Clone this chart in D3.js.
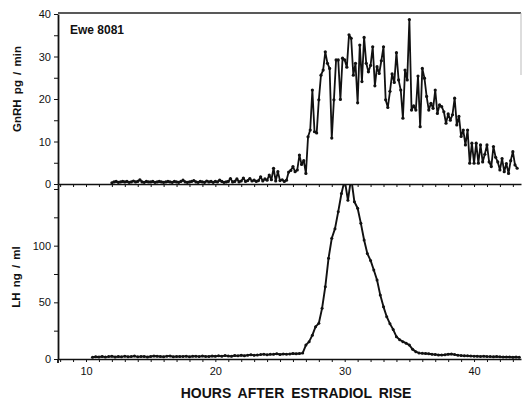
<!DOCTYPE html>
<html>
<head>
<meta charset="utf-8">
<script src="https://cdn.jsdelivr.net/npm/d3@7"></script>
<style>
  body { margin: 0; background: #fff; }
  svg { font-family: "Liberation Sans", Arial, Helvetica, sans-serif; }
  .axis path, .axis line { stroke: #111; }
  .axis text { fill: #111; font-size: 11px; }
</style>
</head>
<body>
<div id="vis"></div>
<script>
// GnRH sampled every 10 min, starting 12 h after the estradiol rise
const GNRH_START = 12;
const GNRH_STEP = 1 / 6;
const gnrhValues = [
  0.3, 0.5, 0.6, 0.4, 0.5, 0.6,
  0.5, 0.6, 0.4, 0.5, 0.7, 0.5,
  0.6, 1.0, 0.5, 0.4, 0.6, 0.5,
  0.5, 0.6, 0.4, 0.5, 0.6, 0.5,
  0.4, 0.5, 0.6, 0.5, 0.4, 0.6,
  0.5, 0.4, 0.6, 0.9, 0.5, 0.4,
  0.5, 0.6, 0.8, 0.5, 0.4, 0.6,
  0.5, 0.4, 0.7, 0.5, 0.6, 0.4,
  0.6, 0.5, 0.9, 0.6, 0.4, 0.5,
  0.6, 1.3, 0.5, 0.6, 1.2, 0.5,
  0.7, 1.4, 0.6, 0.8, 1.3, 0.7,
  0.9, 0.6, 0.8, 1.7, 0.7, 1.2,
  0.9, 2.1, 1.0, 3.7, 0.7, 2.9,
  0.8, 1.0, 0.6, 0.9, 2.8, 3.2,
  4.1, 2.9, 3.3, 6.8, 4.6, 5.5,
  2.5, 11.1, 12.7, 22.1, 12.3, 12.0,
  19.8, 25.6, 26.8, 31.1, 28.4, 27.2,
  10.8, 19.8, 29.2, 29.2, 19.9, 29.6,
  29.2, 27.5, 35.1, 34.3, 25.6, 28.4,
  19.1, 32.7, 24.1, 34.5, 28.4, 26.4,
  27.9, 32.3, 23.1, 27.6, 26.0, 29.0,
  32.3, 19.8, 18.0, 21.8, 25.9, 23.9,
  30.9, 24.5, 22.1, 15.5, 26.8, 24.5,
  38.7, 17.4, 18.4, 17.4, 25.4, 13.5,
  27.2, 24.9, 20.6, 17.4, 19.0, 17.8,
  22.1, 16.6, 18.6, 18.2, 17.0, 14.3,
  16.5, 15.0, 16.3, 20.2, 13.9, 15.9,
  11.2, 12.7, 9.2, 12.7, 4.9, 9.6,
  4.9, 9.6, 4.9, 9.2, 5.2, 7.0,
  9.2, 5.2, 4.1, 8.8, 6.3, 5.2,
  3.3, 6.0, 2.9, 4.8, 2.5, 5.5,
  7.6, 4.5, 3.7
];

// LH sampled every 15 min, starting 10.5 h
const LH_START = 10.5;
const LH_STEP = 0.25;
const lhValues = [
  1.5, 2.0, 1.8, 2.2,
  1.7, 2.1, 2.4, 1.8,
  2.2, 1.9, 2.5, 2.0,
  2.1, 2.6, 1.9, 2.2,
  2.3, 1.8, 2.2, 2.6,
  2.4, 2.2, 2.0, 2.5,
  2.6, 2.0, 2.3, 2.2,
  2.3, 2.5, 2.0, 2.4,
  2.5, 2.1, 2.6, 2.3,
  2.2, 2.6, 2.4, 2.8,
  2.5, 3.0, 2.6, 2.4,
  3.1, 2.8, 3.3, 2.9,
  3.4, 3.8, 3.2, 3.6,
  3.9, 4.3, 3.7, 4.1,
  4.2, 4.6, 4.0, 4.4,
  4.3, 4.5, 4.8, 4.6,
  4.9, 5.2, 12.3, 15.3,
  21.0, 28.5, 31.5, 44.7,
  63.8, 88.8, 106.5, 115,
  130, 146, 158, 140,
  160, 138.7, 133, 119.7,
  105, 93, 87, 78.5,
  69.7, 56.4, 46, 37.3,
  31, 26, 19.7, 17,
  15.3, 14, 12.3, 8.5,
  6.5, 5.2, 5.0, 4.8,
  4.6, 4.2, 4.0, 3.6,
  3.5, 3.8, 4.2, 4.4,
  3.9, 3.4, 3.0, 2.9,
  2.8, 2.6, 2.5, 2.4,
  2.3, 2.4, 2.2, 2.1,
  2.0, 2.2, 1.9, 1.8,
  1.8, 1.7, 1.6, 1.7,
  1.5
];

const hourTicks = [10, 20, 30, 40];
const gnrhTicks = [0, 10, 20, 30, 40];
const lhTicks = [0, 50, 100];

const FRAME_WIDTH = 523;
const FRAME_HEIGHT = 400;
const PLOT = {left: 58, right: 521, top: 13, mid: 184, bottom: 359};

const SVG = d3.select("#vis")
              .append("svg")
                .attr("width", FRAME_WIDTH)
                .attr("height", FRAME_HEIGHT);

const gnrh = gnrhValues.map((v, i) => ({hour: GNRH_START + i * GNRH_STEP, value: v}));
const lh = lhValues.map((v, i) => ({hour: LH_START + i * LH_STEP, value: v}));

const X_SCALE = d3.scaleLinear()
                  .domain([7.835, 43.63])
                  .range([PLOT.left, PLOT.right]);

const Y_GNRH = d3.scaleLinear()
                 .domain([0, 40])
                 .range([PLOT.mid, PLOT.top + 1]);

const Y_LH = d3.scaleLinear()
               .domain([0, 154.4])
               .range([PLOT.bottom, PLOT.mid]);

const hourMinor = d3.range(8, 44);

// frame lines of the upper panel
SVG.append("line")
    .attr("x1", PLOT.left).attr("x2", PLOT.right)
    .attr("y1", PLOT.top).attr("y2", PLOT.top)
    .attr("stroke", "#222").attr("stroke-width", 1.4);
SVG.append("line")
    .attr("x1", PLOT.right).attr("x2", PLOT.right)
    .attr("y1", PLOT.top).attr("y2", 75)
    .attr("stroke", "#bbb").attr("stroke-width", 1);

// panel divider with hourly ticks pointing down
SVG.append("g")
    .attr("class", "axis")
    .attr("transform", "translate(0," + PLOT.mid + ")")
    .call(d3.axisBottom(X_SCALE).tickValues(hourMinor).tickSize(3).tickSizeOuter(0).tickFormat(""))
    .call(g => g.select(".domain").attr("stroke-width", 1.6));

// bottom x axis
SVG.append("g")
    .attr("class", "axis")
    .attr("transform", "translate(0," + PLOT.bottom + ")")
    .call(d3.axisBottom(X_SCALE).tickValues(hourMinor).tickSize(3).tickSizeOuter(0)
            .tickFormat(d => hourTicks.includes(d) ? d : ""))
    .call(g => g.select(".domain").attr("stroke-width", 1.6))
    .call(g => g.selectAll("text").attr("dy", "0.95em"));

// left axes
SVG.append("g")
    .attr("class", "axis")
    .attr("transform", "translate(" + PLOT.left + ",0)")
    .call(d3.axisLeft(Y_GNRH).tickValues(d3.range(0, 41, 5)).tickSize(4).tickSizeOuter(0)
            .tickFormat(d => gnrhTicks.includes(d) ? d : ""))
    .call(g => g.select(".domain").attr("stroke-width", 1.8));

SVG.append("g")
    .attr("class", "axis")
    .attr("transform", "translate(" + PLOT.left + ",0)")
    .call(d3.axisLeft(Y_LH).tickValues(d3.range(0, 151, 25)).tickSize(4).tickSizeOuter(0)
            .tickFormat(d => lhTicks.includes(d) ? d : ""))
    .call(g => g.select(".domain").attr("stroke-width", 1.8));

SVG.append("line")
    .attr("x1", PLOT.left).attr("x2", PLOT.left)
    .attr("y1", PLOT.bottom).attr("y2", PLOT.bottom + 4)
    .attr("stroke", "#111").attr("stroke-width", 1.8);

// series
SVG.append("clipPath")
    .attr("id", "lhclip")
    .append("rect")
      .attr("x", PLOT.left).attr("y", PLOT.mid)
      .attr("width", PLOT.right - PLOT.left).attr("height", PLOT.bottom - PLOT.mid + 3);

const gnrhLine = d3.line().x(d => X_SCALE(d.hour)).y(d => Y_GNRH(d.value));
const lhLine = d3.line().x(d => X_SCALE(d.hour)).y(d => Y_LH(d.value));

SVG.append("path")
    .datum(gnrh)
    .attr("d", gnrhLine)
    .attr("fill", "none")
    .attr("stroke", "#111")
    .attr("stroke-width", 1.8)
    .attr("stroke-linejoin", "round");

SVG.selectAll(".gpt")
    .data(gnrh)
    .enter()
    .append("circle")
      .attr("class", "gpt")
      .attr("cx", d => X_SCALE(d.hour))
      .attr("cy", d => Y_GNRH(d.value))
      .attr("r", 1.6)
      .attr("fill", "#111");

const LH_G = SVG.append("g").attr("clip-path", "url(#lhclip)");

LH_G.append("path")
    .datum(lh)
    .attr("d", lhLine)
    .attr("fill", "none")
    .attr("stroke", "#111")
    .attr("stroke-width", 1.9)
    .attr("stroke-linejoin", "round");

LH_G.selectAll(".lpt")
    .data(lh)
    .enter()
    .append("circle")
      .attr("class", "lpt")
      .attr("cx", d => X_SCALE(d.hour))
      .attr("cy", d => Y_LH(d.value))
      .attr("r", 1.5)
      .attr("fill", "#111");

// labels
SVG.append("text")
    .attr("x", 70).attr("y", 34)
    .attr("font-size", "12px").attr("font-weight", "bold")
    .attr("fill", "#111")
    .text("Ewe 8081");

SVG.append("text")
    .attr("transform", "translate(21,89) rotate(-90)")
    .attr("text-anchor", "middle")
    .attr("font-size", "11.5px").attr("font-weight", "bold")
    .attr("word-spacing", "2px")
    .attr("fill", "#111")
    .text("GnRH pg / min");

SVG.append("text")
    .attr("transform", "translate(20,277) rotate(-90)")
    .attr("text-anchor", "middle")
    .attr("font-size", "11.5px").attr("font-weight", "bold")
    .attr("word-spacing", "2px")
    .attr("fill", "#111")
    .text("LH ng / ml");

SVG.append("text")
    .attr("x", 296).attr("y", 398)
    .attr("text-anchor", "middle")
    .attr("font-size", "14px").attr("font-weight", "bold")
    .attr("word-spacing", "3px")
    .attr("fill", "#111")
    .text("HOURS AFTER ESTRADIOL RISE");
</script>
</body>
</html>
